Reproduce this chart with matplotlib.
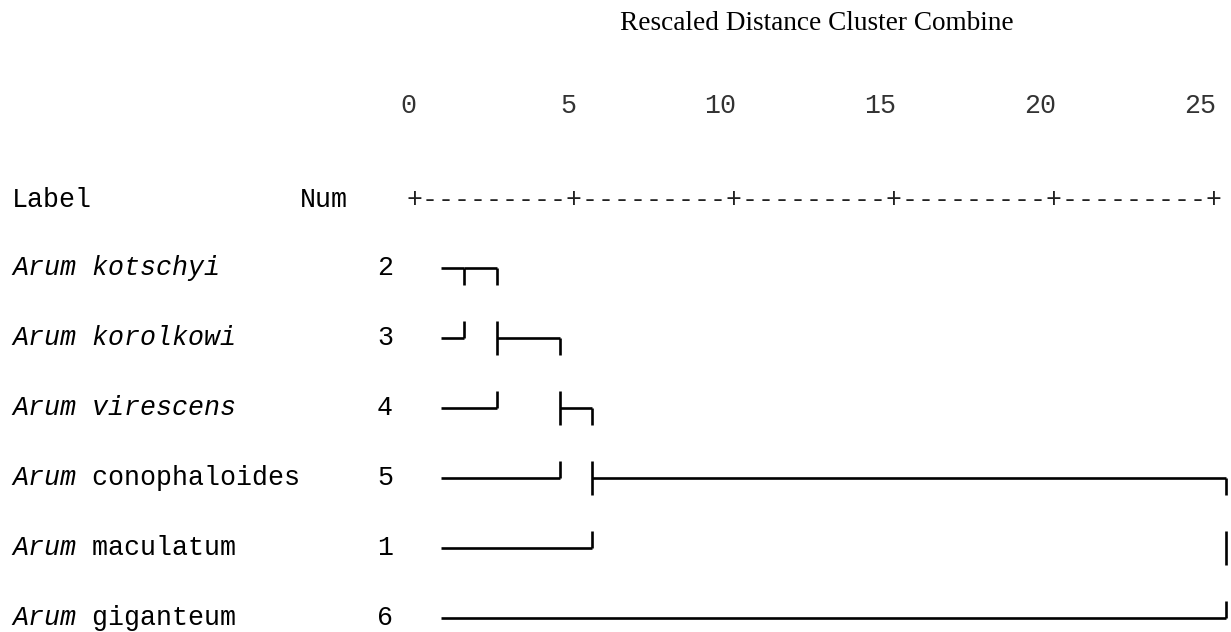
# Dendrograma estilo SPSS (Rescaled Distance Cluster Combine)

from matplotlib import pyplot as plt

# Dados do dendrograma
genus = ["Arum", "Arum", "Arum", "Arum", "Arum", "Arum"]
species = ["kotschyi", "korolkowi", "virescens", "conophaloides", "maculatum", "giganteum"]
species_italic = [True, True, True, False, False, False]
case_num = [2, 3, 4, 5, 1, 6]

leaf_start = 0.81                                   # onde as linhas das folhas começam
merge_height = [1.53, 2.56, 4.53, 5.53, 25.34]      # distância reescalada de cada fusão
merge_top = [0, 0, 1, 2, 3]                          # linha de cima da fusão
merge_bottom = [1, 2, 3, 4, 5]                       # linha de baixo da fusão
merge_out = [0, 1, 2, 3, None]                       # linha onde sai o novo cluster
leaf_end = [0, 0, 1, 2, 3, 4]                        # fusão em que cada folha entra

scale_ticks = [0, 5, 10, 15, 20, 25]

# Figura (eixo ocupa a figura toda, 0 -> 415 px, 25 -> 1214 px)
W, H = 1231, 632
px_unit = 32.0
x0_px = 415
row_px = 70.0
row0_px = 268

fig = plt.figure(figsize=(W / 100, H / 100), dpi=100)
ax = fig.add_axes([0, 0, 1, 1])
ax.set_xlim(-x0_px / px_unit, (W - x0_px) / px_unit)
ax.set_ylim((H - row0_px) / row_px, -row0_px / row_px)
ax.axis('off')

def ypx(py):
    return (py - row0_px) / row_px

def xpx(px):
    return (px - x0_px) / px_unit

mono = 'Liberation Mono'
fs = 19.2
lw = 1.9
half = 0.243

# Titulo
ax.text(xpx(817), ypx(23), "Rescaled Distance Cluster Combine", family='Liberation Serif',
        fontsize=19.6, ha='center', va='center')

# Escala
for t in scale_ticks:
    ax.text(t + 0.05, ypx(106), str(t), family=mono, fontsize=fs, ha='right', va='center',
            color='#333333')
ruler = "+" + "+".join(["-" * 9] * 5) + "+"
ax.text(-0.25, ypx(200), ruler, family=mono, fontsize=fs, ha='left', va='center',
        color='#222222')
ax.text(xpx(12), ypx(200), "Label", family=mono, fontsize=fs, ha='left', va='center')
ax.text(xpx(300), ypx(200), "Num", family=mono, fontsize=fs, ha='left', va='center')

# Rotulos das linhas
for i in range(len(species)):
    ax.text(xpx(12), i, genus[i], family=mono, fontsize=fs, style='italic',
            ha='left', va='center')
    ax.text(xpx(12 + 4 * 16), i, " " + species[i], family=mono, fontsize=fs,
            style='italic' if species_italic[i] else 'normal', ha='left', va='center')
    ax.text(xpx(393), i, str(case_num[i]), family=mono, fontsize=fs, ha='right', va='center')

# Linhas horizontais das folhas
for i in range(len(species)):
    ax.plot([leaf_start, merge_height[leaf_end[i]]], [i, i], color='black', lw=lw,
            solid_capstyle='butt')

# Linhas dos clusters e verticais das fusões
for k, h in enumerate(merge_height):
    out = merge_out[k]
    if out is not None and k + 1 < len(merge_height):
        ax.plot([h, merge_height[k + 1]], [out, out], color='black', lw=lw,
                solid_capstyle='butt')
    for r in range(merge_top[k], merge_bottom[k] + 1):
        y_a = r - half if r > merge_top[k] else r
        y_b = r + half if r < merge_bottom[k] else r
        ax.plot([h, h], [y_a, y_b], color='black', lw=lw, solid_capstyle='butt')

fig.savefig('out.png', dpi=100)
